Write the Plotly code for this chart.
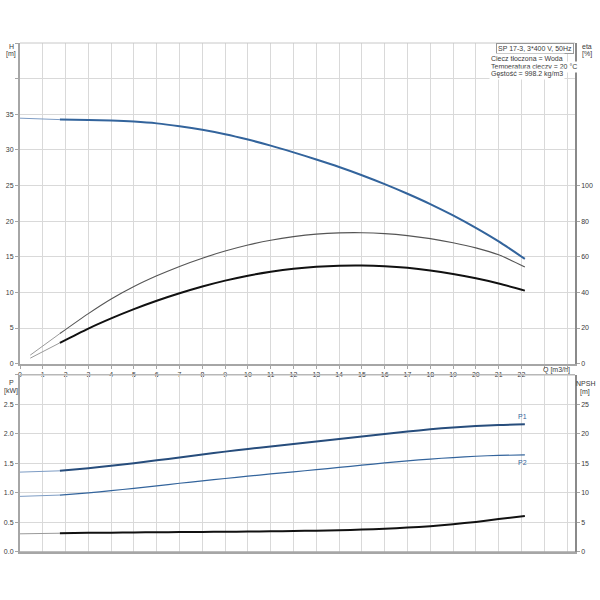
import plotly.graph_objects as go

# ---- data ----
q = [0, 1.75, 3, 4, 5, 6, 7, 8, 9, 10, 11, 12, 13, 14, 15, 16, 17, 18, 19, 20, 21, 22.15]
head = [34.45, 34.25, 34.2, 34.12, 33.97, 33.72, 33.32, 32.82, 32.2, 31.45, 30.6, 29.65,
        28.65, 27.6, 26.45, 25.2, 23.85, 22.4, 20.8, 19.05, 17.15, 14.7]

q_eta = [0.45, 1.75, 3, 4, 5, 6, 7, 8, 9, 10, 11, 12, 13, 14, 15, 16, 17, 18, 19, 20, 21, 22.15]
eta_pump = [4.8, 16.9, 28.1, 36.3, 43.3, 49.3, 54.6, 59.2, 63.2, 66.6, 69.3, 71.3,
            72.7, 73.4, 73.5, 73.0, 71.9, 70.2, 67.9, 65.0, 61.1, 54.2]
eta_total = [3.1, 11.7, 19.7, 25.4, 30.6, 35.3, 39.5, 43.3, 46.6, 49.4, 51.6, 53.3,
             54.4, 55.0, 55.1, 54.7, 53.8, 52.3, 50.3, 47.9, 45.0, 41.0]

p1 = [1.353, 1.375, 1.42, 1.46, 1.505, 1.553, 1.60, 1.65, 1.70, 1.745, 1.787, 1.828,
      1.870, 1.912, 1.955, 1.998, 2.040, 2.078, 2.110, 2.135, 2.152, 2.163]
p2 = [0.942, 0.964, 1.003, 1.038, 1.079, 1.121, 1.164, 1.205, 1.245, 1.284, 1.322, 1.358,
      1.394, 1.432, 1.471, 1.508, 1.543, 1.574, 1.600, 1.622, 1.636, 1.644]
npsh = [3.08, 3.18, 3.24, 3.28, 3.31, 3.34, 3.37, 3.40, 3.43, 3.47, 3.51, 3.55,
        3.61, 3.69, 3.80, 3.95, 4.14, 4.38, 4.70, 5.10, 5.57, 6.1]

x_ticks = list(range(0, 25))
x_ticktext = [str(v) for v in range(0, 23)] + ["", ""]
h_ticks = [0, 5, 10, 15, 20, 25, 30, 35, 40, 45]
h_ticktext = ["0", "5", "10", "15", "20", "25", "30", "35", "", ""]
eta_ticks = [0, 20, 40, 60, 80, 100]
p_ticks = [0, 0.5, 1.0, 1.5, 2.0, 2.5, 3.0]
p_ticktext = ["0.0", "0.5", "1.0", "1.5", "2.0", "2.5", ""]
npsh_ticks = [0, 5, 10, 15, 20, 25]

FONT = "Liberation Sans, Arial, sans-serif"
TXT = "#3a3a3a"
BLUE = "#33649c"
BLUE_D = "#274d7c"
GRID = "#d9d9d9"
AX = "#a6a6a6"

fig = go.Figure()


def add_curve(xs, ys, xaxis, yaxis, color, width, thin_color, thin_width=1):
    # thin part (first segment) then thick part
    fig.add_trace(go.Scatter(x=xs[:2], y=ys[:2], mode="lines", xaxis=xaxis, yaxis=yaxis,
                             line=dict(color=thin_color, width=thin_width), hoverinfo="skip"))
    fig.add_trace(go.Scatter(x=xs[1:], y=ys[1:], mode="lines", xaxis=xaxis, yaxis=yaxis,
                             line=dict(color=color, width=width, shape="spline", smoothing=0.8),
                             hoverinfo="skip"))


add_curve(q, head, "x", "y", BLUE, 2, "#7d9cc4")
add_curve(q_eta, eta_pump, "x", "y2", "#555555", 1.1, "#9a9a9a")
add_curve(q_eta, eta_total, "x", "y2", "#111111", 2, "#9a9a9a")
add_curve(q, p1, "x2", "y3", BLUE_D, 2, "#7d9cc4")
add_curve(q, p2, "x2", "y3", BLUE, 1.2, "#7d9cc4")
add_curve(q, npsh, "x2", "y4", "#111111", 2, "#9a9a9a")

tickfont = dict(family=FONT, size=7, color=TXT)
xr = [0, 24.35]

common_x = dict(range=xr, tickmode="array", tickvals=x_ticks, showgrid=True, gridcolor=GRID,
                gridwidth=1, zeroline=False, showline=True, linecolor=AX, linewidth=2,
                mirror=False, ticks="outside", ticklen=3, tickcolor=AX, tickfont=tickfont,
                automargin=False)

fig.update_layout(
    width=600, height=600,
    margin=dict(l=20, r=25, t=43, b=48, autoexpand=False),
    paper_bgcolor="white", plot_bgcolor="white",
    showlegend=False,
    font=dict(family=FONT, size=7, color=TXT),
    xaxis=dict(common_x, anchor="y", ticktext=x_ticktext),
    xaxis2=dict(common_x, anchor="y3", ticktext=[""] * len(x_ticks), ticks="", matches="x"),
    yaxis=dict(domain=[0.370, 1.0], range=[0, 45], tickmode="array", tickvals=h_ticks,
               ticktext=h_ticktext, showgrid=True, gridcolor=GRID, zeroline=False,
               showline=True, linecolor=AX, linewidth=2, ticks="outside", ticklen=3,
               tickcolor=AX, tickfont=tickfont, automargin=False),
    yaxis2=dict(overlaying="y", side="right", anchor="x", range=[0, 180], tickmode="array",
                tickvals=eta_ticks, showgrid=False, zeroline=False, showline=True,
                linecolor="#8a8a8a", linewidth=1.5, ticks="outside", ticklen=3,
                tickcolor=AX, tickfont=tickfont, automargin=False),
    yaxis3=dict(domain=[0.0, 0.348], range=[0, 3.0], tickmode="array", tickvals=p_ticks,
                ticktext=p_ticktext, showgrid=True, gridcolor=GRID, zeroline=False,
                showline=True, linecolor=AX, linewidth=2, ticks="outside", ticklen=3,
                tickcolor=AX, tickfont=tickfont, anchor="x2", automargin=False),
    yaxis4=dict(overlaying="y3", side="right", anchor="x2", range=[0, 30], tickmode="array",
                tickvals=npsh_ticks, showgrid=False, zeroline=False, showline=True,
                linecolor="#8a8a8a", linewidth=1.5, ticks="outside", ticklen=3,
                tickcolor=AX, tickfont=tickfont, automargin=False),
)

# top borders of both plots, bottom border of lower plot
fig.add_shape(type="line", xref="x domain", yref="y domain", x0=0, x1=1, y0=1, y1=1,
              line=dict(color="#c8c8c8", width=1))
fig.add_shape(type="line", xref="x2 domain", yref="y3 domain", x0=0, x1=1, y0=1, y1=1,
              line=dict(color="#b8b8b8", width=1.5))
fig.add_shape(type="line", xref="x2 domain", yref="y3 domain", x0=0, x1=1, y0=0, y1=0,
              line=dict(color=AX, width=1.5))

ann = []


def label(text, x, y, xanchor="center", yanchor="middle", color=TXT, **kw):
    ann.append(dict(text=text, x=x, y=y, xref="paper", yref="paper", xanchor=xanchor,
                    yanchor=yanchor, showarrow=False,
                    font=dict(family=FONT, size=7, color=color), **kw))


def px(xp):
    return (xp - 20) / 555.0


def py(yp):
    return (552 - yp) / 509.0


label("H", px(11), py(46))
label("[m]", px(11), py(54))
label("eta", px(587), py(46))
label("[%]", px(587), py(54))
label("P", px(11), py(382))
label("[kW]", px(11), py(391))
label("NPSH", px(585), py(383))
label("[m]", px(585), py(392))
label("Q [m3/h]", px(556), py(369.5))

label("SP 17-3, 3*400 V, 50Hz", px(574), py(43.5), xanchor="right", yanchor="top",
      bordercolor="#999999", borderwidth=1, borderpad=1, bgcolor="white")
label("Ciecz tłoczona = Woda", px(489), py(59), xanchor="left", bgcolor="white")
label("Temperatura cieczy = 20 °C", px(489), py(66.5), xanchor="left", bgcolor="white")
label("Gęstość = 998.2 kg/m3", px(489), py(74), xanchor="left", bgcolor="white")

fig.update_layout(annotations=ann)

# curve labels P1 / P2 in data coords
fig.add_annotation(text="P1", x=q[-1] - 0.1, y=p1[-1], xref="x2", yref="y3", yshift=8,
                   showarrow=False, font=dict(family=FONT, size=7, color=BLUE))
fig.add_annotation(text="P2", x=q[-1] - 0.1, y=p2[-1], xref="x2", yref="y3", yshift=-8,
                   showarrow=False, font=dict(family=FONT, size=7, color=BLUE))

fig.write_html("out.html", config={"displayModeBar": False},
               post_script="document.body.style.margin='0px';document.body.style.padding='0px';")
